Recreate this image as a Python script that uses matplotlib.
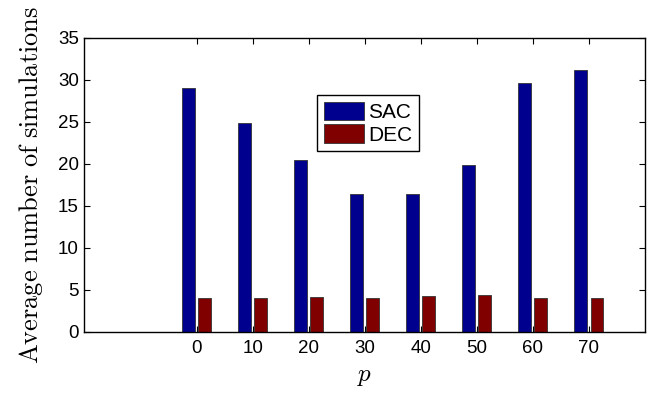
import matplotlib
matplotlib.use("Agg")
import matplotlib.pyplot as plt
import numpy as np

p = [0, 10, 20, 30, 40, 50, 60, 70]
sac = [29.1, 24.9, 20.5, 16.45, 16.4, 19.85, 29.7, 31.2]
dec = [4.0, 4.0, 4.15, 4.1, 4.3, 4.35, 4.05, 4.1]

plt.rcParams["font.family"] = ["Liberation Sans", "DejaVu Sans"]
plt.rcParams["mathtext.fontset"] = "cm"

fig = plt.figure(figsize=(6.47, 3.95), dpi=100)
ax = fig.add_axes([0.1306, 0.1595, 0.8663, 0.7443])

x = np.array(p, dtype=float)
w = 2.3
off = 1.43
ax.bar(x - off, sac, width=w, color="#00008F", edgecolor="#333333", linewidth=0.6, label="SAC")
ax.bar(x + off, dec, width=w, color="#800000", edgecolor="#333333", linewidth=0.6, label="DEC")

ax.set_xlim(-20, 80)
ax.set_ylim(0, 35)
ax.set_xticks(p)
ax.set_yticks(range(0, 36, 5))
ax.tick_params(direction="in", top=True, right=True, length=4, width=0.8, labelsize=13.5)
ax.tick_params(axis="x", pad=6)
ax.tick_params(axis="y", pad=4)
for s in ax.spines.values():
    s.set_linewidth(1.0)

ax.set_xlabel(r"$p$", fontsize=18, labelpad=5)
ax.set_ylabel(r"$\mathrm{Average\ number\ of\ simulations}$", fontsize=19, labelpad=9)

leg = ax.legend(loc="upper left", bbox_to_anchor=(0.4155, 0.8045), fontsize=15,
                fancybox=False, edgecolor="black", framealpha=1, handlelength=1.95,
                handleheight=1.0, borderpad=0.3, labelspacing=0.1, handletextpad=0.2,
                borderaxespad=0)
leg.get_frame().set_linewidth(1.0)

fig.savefig("out.png", dpi=100)
